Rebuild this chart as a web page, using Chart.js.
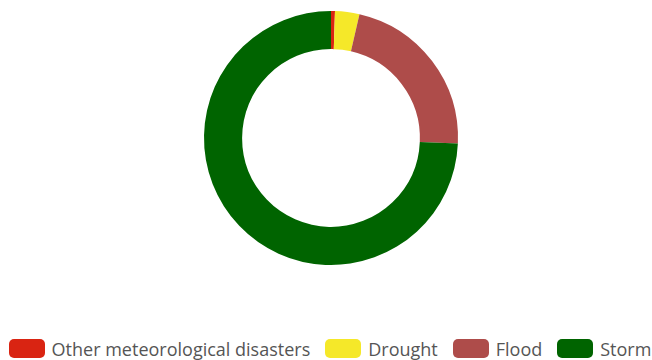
<!DOCTYPE html>
<html>
<head>
<meta charset="utf-8">
<script src="https://cdn.jsdelivr.net/npm/chart.js@4"></script>
<style>
  html, body { margin: 0; padding: 0; background: #fff; }
  #page { position: relative; width: 652px; height: 360px; overflow: hidden; }
  #wrap { position: absolute; left: 0; top: 0; width: 652px; height: 276px; }
  #legend { position: absolute; left: 4px; top: 339px; width: 652px; height: 19px;
            display: flex; justify-content: center; align-items: center;
            font-family: "Open Sans", sans-serif; font-size: 18px; color: #555; }
  .item { display: flex; align-items: center; margin-right: 15px; white-space: nowrap; }
  .item:last-child { margin-right: 0; }
  .box { width: 36px; height: 19px; border-radius: 5px; margin-right: 7px; }
</style>
</head>
<body>
<div id="page">
  <div id="wrap"><canvas id="mychart"></canvas></div>
  <div id="legend"></div>
</div>
<script>
const categories = ["Other meteorological disasters", "Drought", "Flood", "Storm"];
const shares = [0.5, 3.1, 22.1, 74.3];
const colours = ["#d92412", "#f5e829", "#ae4c4a", "#006400"];

// html legend, built from the chart's own legend items
const htmlLegend = {
  id: 'htmlLegend',
  afterUpdate(chart) {
    const box = document.getElementById('legend');
    box.innerHTML = '';
    chart.options.plugins.legend.labels.generateLabels(chart).forEach(item => {
      const el = document.createElement('div');
      el.className = 'item';
      const sw = document.createElement('span');
      sw.className = 'box';
      sw.style.background = item.fillStyle;
      const txt = document.createElement('span');
      txt.textContent = item.text;
      el.appendChild(sw);
      el.appendChild(txt);
      box.appendChild(el);
    });
  }
};

new Chart(document.getElementById("mychart"), {
  type: 'doughnut',
  data: {
    labels: categories,
    datasets: [{
      data: shares,
      backgroundColor: colours,
      borderWidth: 0
    }]
  },
  options: {
    responsive: true,
    maintainAspectRatio: false,
    animation: false,
    cutout: '70%',
    layout: { padding: { top: 11, bottom: 11, left: 10, right: 0 } },
    plugins: {
      tooltip: { enabled: false },
      legend: { display: false }
    }
  },
  plugins: [htmlLegend]
});
</script>
</body>
</html>
